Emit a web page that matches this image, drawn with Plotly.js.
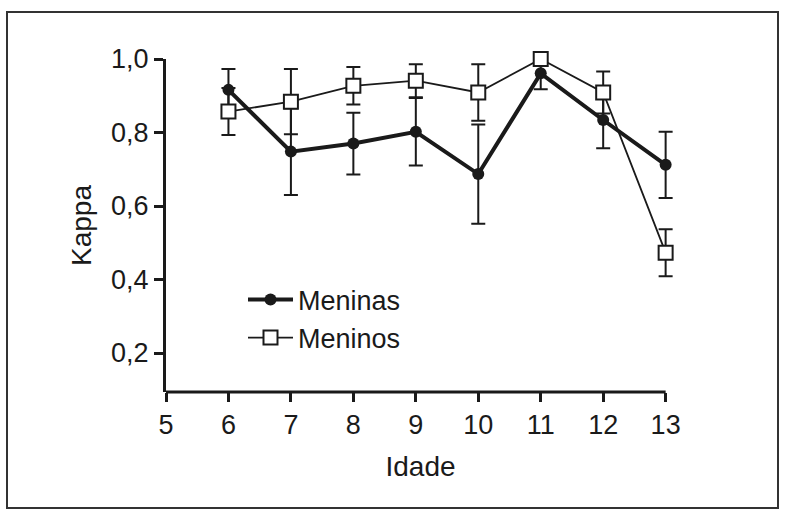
<!DOCTYPE html>
<html>
<head>
<meta charset="utf-8">
<script src="https://cdn.plot.ly/plotly-3.0.1.min.js"></script>
<style>
html,body{margin:0;padding:0;background:#fff;}
#chart{width:792px;height:513px;}
</style>
</head>
<body>
<div id="chart"></div>
<script>
// Data
const idade = [6, 7, 8, 9, 10, 11, 12, 13];
const meninasKappa = [0.916, 0.748, 0.770, 0.802, 0.687, 0.961, 0.834, 0.712];
const meninasErr   = [0.057, 0.118, 0.084, 0.092, 0.135, 0.043, 0.077, 0.090];
const meninosKappa = [0.857, 0.884, 0.927, 0.941, 0.909, 1.000, 0.909, 0.473];
const meninosErr   = [0.064, 0.089, 0.051, 0.045, 0.077, 0.000, 0.057, 0.064];
const xTicks = [5, 6, 7, 8, 9, 10, 11, 12, 13];
const yTicks = [0.2, 0.4, 0.6, 0.8, 1.0];
const yTickLabels = ["0,2", "0,4", "0,6", "0,8", "1,0"];

const ink = "#1a1a1a";
const font = "Liberation Sans, Arial, sans-serif";

const traces = [
  {
    x: idade, y: meninasKappa, name: "Meninas", type: "scatter", mode: "lines+markers",
    cliponaxis: false,
    line: {color: ink, width: 4},
    marker: {symbol: "circle", size: 12, color: ink},
    error_y: {type: "data", array: meninasErr, visible: true, color: ink, thickness: 2, width: 7}
  },
  {
    x: idade, y: meninosKappa, name: "Meninos", type: "scatter", mode: "lines+markers",
    cliponaxis: false,
    line: {color: ink, width: 1.8},
    marker: {symbol: "square", size: 14, color: "#ffffff", line: {color: ink, width: 2}},
    error_y: {type: "data", array: meninosErr, visible: true, color: ink, thickness: 2, width: 7}
  }
];

const L = 166, R = 117, T = 59, B = 121;
const pw = 792 - L - R, ph = 513 - T - B;

const layout = {
  width: 792, height: 513,
  paper_bgcolor: "#ffffff", plot_bgcolor: "#ffffff",
  margin: {l: L, r: R, t: T, b: B, pad: 0},
  font: {family: font, color: ink, size: 27},
  showlegend: true,
  legend: {
    x: (243 - L) / pw, y: 0.35, xanchor: "left", yanchor: "top",
    bgcolor: "rgba(0,0,0,0)", font: {size: 27, family: font, color: ink},
    tracegroupgap: 0, itemwidth: 45
  },
  xaxis: {
    range: [xTicks[0], 13.15], tickvals: xTicks, ticktext: xTicks.map(String),
    showgrid: false, zeroline: false, showline: false,
    ticks: "outside", ticklen: 9, tickwidth: 3, tickcolor: ink,
    tickfont: {size: 27, family: font, color: ink},
    title: {text: "Idade", font: {size: 28, family: font, color: ink}, standoff: 16}
  },
  yaxis: {
    range: [0.094, 1.0], tickvals: yTicks, ticktext: yTickLabels,
    showgrid: false, zeroline: false, showline: true, linecolor: ink, linewidth: 3,
    ticks: "outside", ticklen: 9, tickwidth: 3, tickcolor: ink,
    tickfont: {size: 27, family: font, color: ink},
    title: {text: "Kappa", font: {size: 28, family: font, color: ink}, standoff: 12}
  },
  shapes: [
    // x axis line, ending at the last tick
    {type: "line", xref: "x", yref: "paper",
     x0: xTicks[0], x1: xTicks[xTicks.length - 1], y0: 0, y1: 0,
     line: {color: ink, width: 3}, layer: "above"},
    // outer frame around the figure
    {type: "rect", xref: "paper", yref: "paper",
     x0: (7 - L) / pw, x1: (778 - L) / pw,
     y0: (513 - B - 508) / ph, y1: (513 - B - 12) / ph,
     line: {color: "#333333", width: 2}, fillcolor: "rgba(0,0,0,0)", layer: "below"}
  ]
};

Plotly.newPlot("chart", traces, layout, {displayModeBar: false, staticPlot: true});
</script>
</body>
</html>
